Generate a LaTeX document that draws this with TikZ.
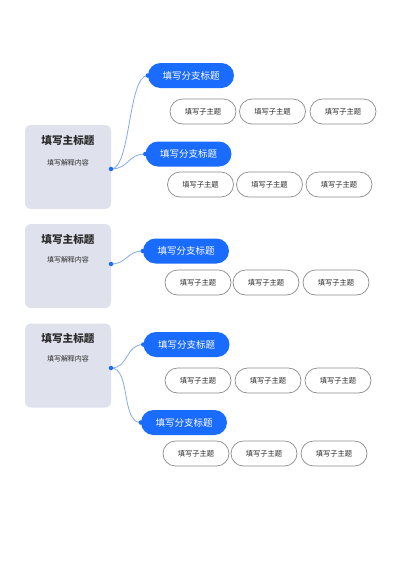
\documentclass[tikz,border=0pt]{standalone}
\usepackage{fontspec}
\newfontfamily\cjk{Noto Sans CJK SC}
\usetikzlibrary{positioning}
\definecolor{mainfill}{HTML}{DFE1EC}
\definecolor{branchblue}{HTML}{1A6BFF}
\definecolor{linkblue}{HTML}{86A9EE}
\definecolor{childline}{HTML}{8C8C8C}
\definecolor{darktext}{HTML}{2B2B2B}
\begin{document}
\begin{tikzpicture}[x=1pt,y=-1pt,
  mainbox/.style={rectangle,rounded corners=6pt,fill=mainfill,minimum width=86pt,minimum height=84pt,inner sep=0pt},
  maintitle/.style={font=\cjk\bfseries\fontsize{10.6}{12}\selectfont,text=darktext,inner sep=0pt},
  mainsub/.style={font=\cjk\fontsize{7}{8}\selectfont,text=darktext,inner sep=0pt},
  branch/.style={rectangle,rounded corners=12.5pt,fill=branchblue,minimum width=86pt,minimum height=25pt,inner sep=0pt,
    font=\cjk\fontsize{9.5}{11}\selectfont,text=white},
  child/.style={rectangle,rounded corners=12.5pt,draw=childline,line width=0.7pt,fill=white,minimum width=66pt,minimum height=25pt,inner sep=0pt,
    font=\cjk\fontsize{7.3}{8}\selectfont,text=darktext},
  link/.style={draw=linkblue,line width=0.8pt},
  knot/.style={circle,fill=branchblue,inner sep=0pt,minimum size=4.5pt}]
  \useasboundingbox (0,0) rectangle (400,566);

  % block 1
  \node[mainbox] (m1) at (68,167) {};
  \node[maintitle] (m1t) at (68,140) {填写主标题};
  \node[mainsub] (m1s) at (68,163) {填写解释内容};
  \node[branch] (b1a) at (191,75.5) {填写分支标题};
  \node[branch] (b1b) at (188.5,154) {填写分支标题};
  \node[child] (c1a) at (203,111.5) {填写子主题};
  \node[child] (c1b) at (272.5,111.5) {填写子主题};
  \node[child] (c1c) at (343,111.5) {填写子主题};
  \node[child] (c2a) at (200.5,184.5) {填写子主题};
  \node[child] (c2b) at (269.5,184.5) {填写子主题};
  \node[child] (c2c) at (339,184.5) {填写子主题};
  \coordinate (d1) at (111,169);
  \draw[link] (d1) .. controls +(20,0) and +(-20,0) .. (b1a.west);
  \draw[link] (d1) .. controls +(18,0) and +(-18,0) .. (b1b.west);
  \node[knot] at (d1) {};
  \node[knot] at (b1a.west) {};
  \node[knot] at (b1b.west) {};

  % block 2
  \node[mainbox] (m2) at (68,266) {};
  \node[maintitle] (m2t) at (68,239) {填写主标题};
  \node[mainsub] (m2s) at (68,260) {填写解释内容};
  \node[branch] (b2) at (186,251) {填写分支标题};
  \node[child] (c3a) at (198,282.5) {填写子主题};
  \node[child] (c3b) at (266,282.5) {填写子主题};
  \node[child] (c3c) at (336,282.5) {填写子主题};
  \coordinate (d2) at (111,264);
  \draw[link] (d2) .. controls +(16,0) and +(-16,0) .. (b2.west);
  \node[knot] at (d2) {};
  \node[knot] at (b2.west) {};

  % block 3
  \node[mainbox] (m3) at (68,365.5) {};
  \node[maintitle] (m3t) at (68,338) {填写主标题};
  \node[mainsub] (m3s) at (68,359) {填写解释内容};
  \node[branch] (b3a) at (186.5,344.5) {填写分支标题};
  \node[branch] (b3b) at (184,422.5) {填写分支标题};
  \node[child] (c4a) at (198,380.5) {填写子主题};
  \node[child] (c4b) at (268,380.5) {填写子主题};
  \node[child] (c4c) at (338,380.5) {填写子主题};
  \node[child] (c5a) at (196,453.5) {填写子主题};
  \node[child] (c5b) at (264,453.5) {填写子主题};
  \node[child] (c5c) at (334,453.5) {填写子主题};
  \coordinate (d3) at (111,368);
  \draw[link] (d3) .. controls +(18,0) and +(-18,0) .. (b3a.west);
  \draw[link] (d3) .. controls +(20,0) and +(-20,0) .. (b3b.west);
  \node[knot] at (d3) {};
  \node[knot] at (b3a.west) {};
  \node[knot] at (b3b.west) {};
\end{tikzpicture}
\end{document}
